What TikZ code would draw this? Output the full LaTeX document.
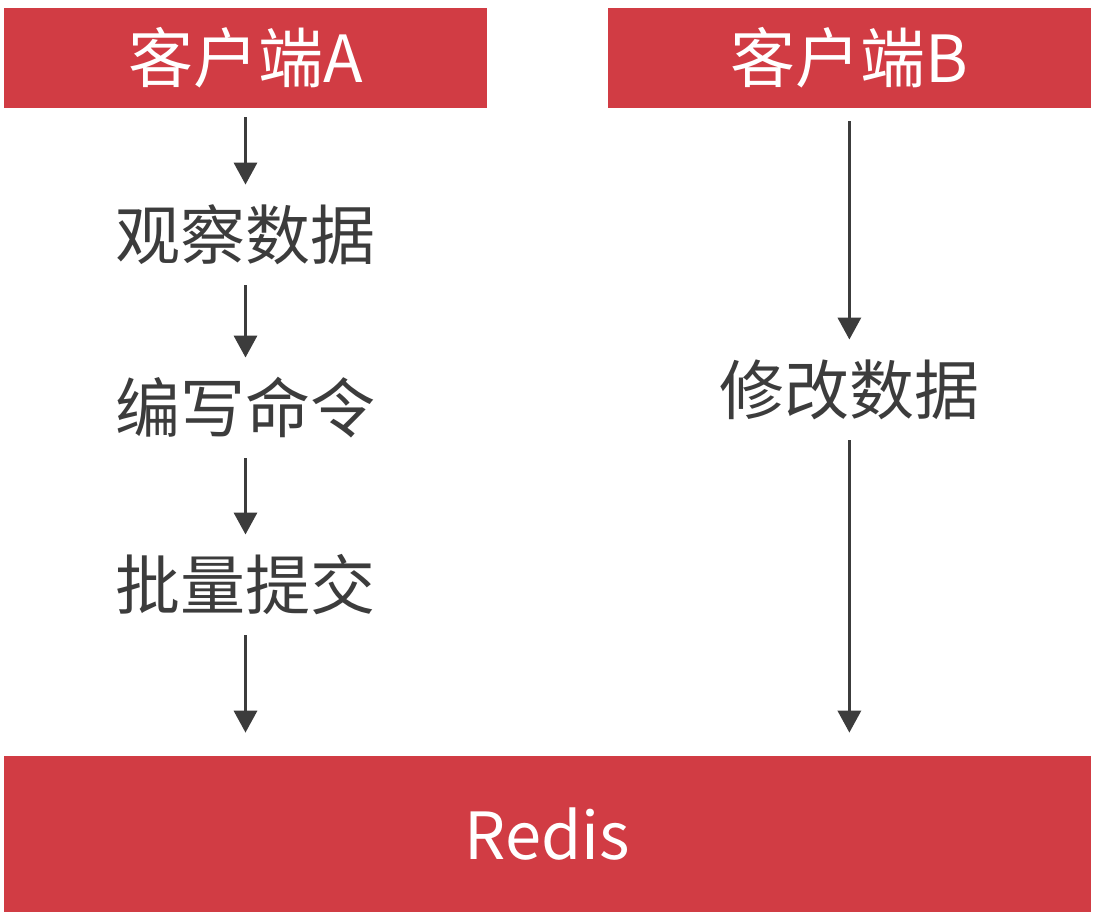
\documentclass[tikz,border=0pt]{standalone}
\usepackage{fontspec}
\setmainfont{Noto Sans CJK SC}
\usetikzlibrary{arrows.meta, positioning}
\definecolor{redisred}{HTML}{D13C44}
\definecolor{inkgray}{HTML}{3C3C3C}

\begin{document}
\begin{tikzpicture}[
      x=0.02cm, y=-0.02cm, on grid, >={Triangle[width=13pt,length=12.5pt]},
      bar/.style={fill=redisred, text=white, minimum height=2cm, inner sep=0pt,
        font=\fontsize{37}{44}\selectfont},
      stepnode/.style={text=inkgray, minimum height=2cm, inner sep=0pt,
        font=\fontsize{37}{44}\selectfont},
      flow/.style={->, draw=inkgray, line width=2.1pt},
      ]
      \useasboundingbox (0,0) rectangle (1100,918);

      \node[bar, minimum width=9.66cm] (cliA) at (245.5,58)        {客户端A};
      \node[bar, minimum width=9.66cm] (cliB) [right=12.08cm of cliA] {客户端B};

      \node[stepnode] (watch)  [below=3.54cm of cliA]  {观察数据};
      \node[stepnode] (write)  [below=3.46cm of watch] {编写命令};
      \node[stepnode] (commit) [below=3.54cm of write] {批量提交};
      \node[stepnode] (modify) [below=6.64cm of cliB]  {修改数据};

      \node[bar, minimum width=21.74cm, minimum height=3.12cm] (redis) at (547.5,834) {Redis};

      \draw[flow, shorten <=0.18cm] (cliA) -- (watch);
      \draw[flow] (watch) -- (write);
      \draw[flow] (write) -- (commit);
      \draw[flow, shorten >=0.46cm] (commit) -- (commit |- redis.north);
      \draw[flow, shorten <=0.26cm] (cliB) -- (modify);
      \draw[flow, shorten >=0.46cm] (modify) -- (modify |- redis.north);
    \end{tikzpicture}
\end{document}
